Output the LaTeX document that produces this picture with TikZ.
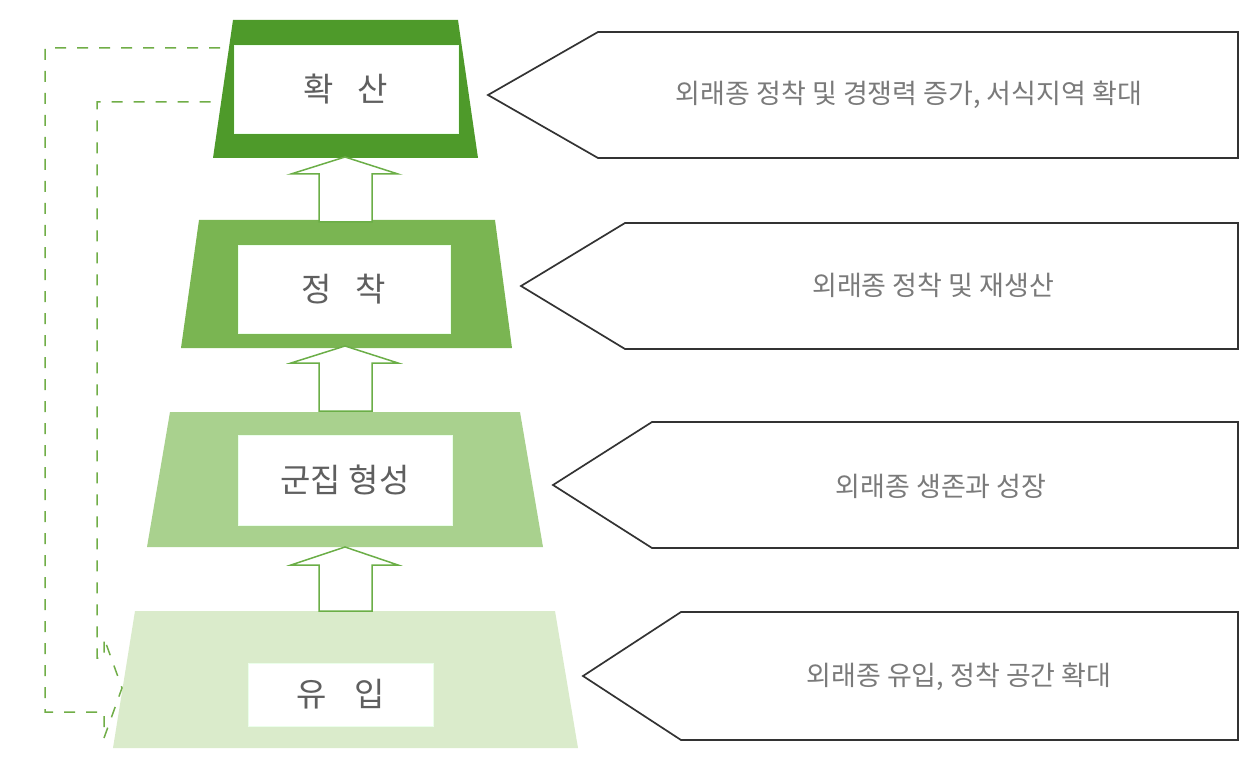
\documentclass[tikz,border=0pt]{standalone}
\usepackage{fontspec}
\newfontfamily\kr{Noto Sans CJK KR}
\definecolor{gone}{HTML}{4E9A2A}
\definecolor{gtwo}{HTML}{7AB552}
\definecolor{gthree}{HTML}{A9D18E}
\definecolor{gfour}{HTML}{DAEBCB}
\definecolor{arrgreen}{HTML}{6BAE47}
\definecolor{dashgreen}{HTML}{70AD47}
\definecolor{calloutgray}{HTML}{333333}
\definecolor{labelgray}{HTML}{5F5F5F}
\definecolor{textgray}{HTML}{7A7A7A}
\begin{document}
\begin{tikzpicture}[x=1pt,y=-1pt,
  wbox/.style={fill=white, draw=white!92!green, inner sep=0pt},
  uparr/.style={draw=arrgreen, line width=1.5pt, fill=white, line join=miter},
  callout/.style={draw=calloutgray, line width=1.7pt, fill=white, line join=miter},
  lbl/.style={font=\kr\fontsize{33}{38}\selectfont, text=labelgray},
  ctext/.style={font=\kr\fontsize{27}{32}\selectfont, text=textgray, inner sep=0pt},
  loopline/.style={draw=dashgreen, line width=1.5pt, dash pattern=on 11pt off 11pt}]
\useasboundingbox (0,0) rectangle (1257,767);
% trapezoids
\fill[gone] (233,20) -- (458,20) -- (478,158) -- (213,158) -- cycle;
\fill[gtwo] (199,220) -- (495,220) -- (512,348) -- (181,348) -- cycle;
\fill[gthree] (170,412) -- (520,412) -- (543,547) -- (147,547) -- cycle;
\fill[gfour] (135,611) -- (555,611) -- (578,748) -- (113,748) -- cycle;
% white label boxes
\node[wbox, lbl, minimum width=224pt, minimum height=88pt] (b1) at (346,89) {확\hspace{24pt}산};
\node[wbox, lbl, minimum width=212pt, minimum height=88pt] (b2) at (344,289) {정\hspace{24pt}착};
\node[wbox, lbl, minimum width=214pt, minimum height=90pt] (b3) at (345,480) {군집 형성};
\node[wbox, lbl, minimum width=185pt, minimum height=63pt] (b4) at (340.5,694.5) {유\hspace{28pt}입};
% block up arrows
\draw[uparr] (319,222) -- (319,174) -- (291,174) -- (345,157) -- (398,174) -- (372,174) -- (372,222) -- cycle;
\draw[uparr] (319,411) -- (319,363) -- (291,363) -- (345,346) -- (398,363) -- (372,363) -- (372,411) -- cycle;
\draw[uparr] (319,611) -- (319,565) -- (291,565) -- (345,547) -- (398,565) -- (372,565) -- (372,611) -- cycle;
% callouts
\draw[callout] (488,95) -- (598,32) -- (1238,32) -- (1238,158) -- (598,158) -- cycle;
\draw[callout] (521,286) -- (625,223) -- (1238,223) -- (1238,349) -- (625,349) -- cycle;
\draw[callout] (553,485) -- (652,422) -- (1238,422) -- (1238,548) -- (652,548) -- cycle;
\draw[callout] (583,676) -- (681,612) -- (1238,612) -- (1238,740) -- (681,740) -- cycle;
\node[ctext] (c1) at (909,95) {외래종 정착 및 경쟁력 증가, 서식지역 확대};
\node[ctext] (c2) at (933,285) {외래종 정착 및 재생산};
\node[ctext] (c3) at (941,486) {외래종 생존과 성장};
\node[ctext] (c4) at (959,677) {외래종 유입, 정착 공간 확대};
% dashed feedback arrow outline
\draw[loopline] (220,48) -- (45,48) -- (45,712) -- (104,712) -- (104,738) -- (122,688) -- (104,638) -- (104,658) -- (97,658) -- (97,102) -- (220,102);
\end{tikzpicture}
\end{document}
